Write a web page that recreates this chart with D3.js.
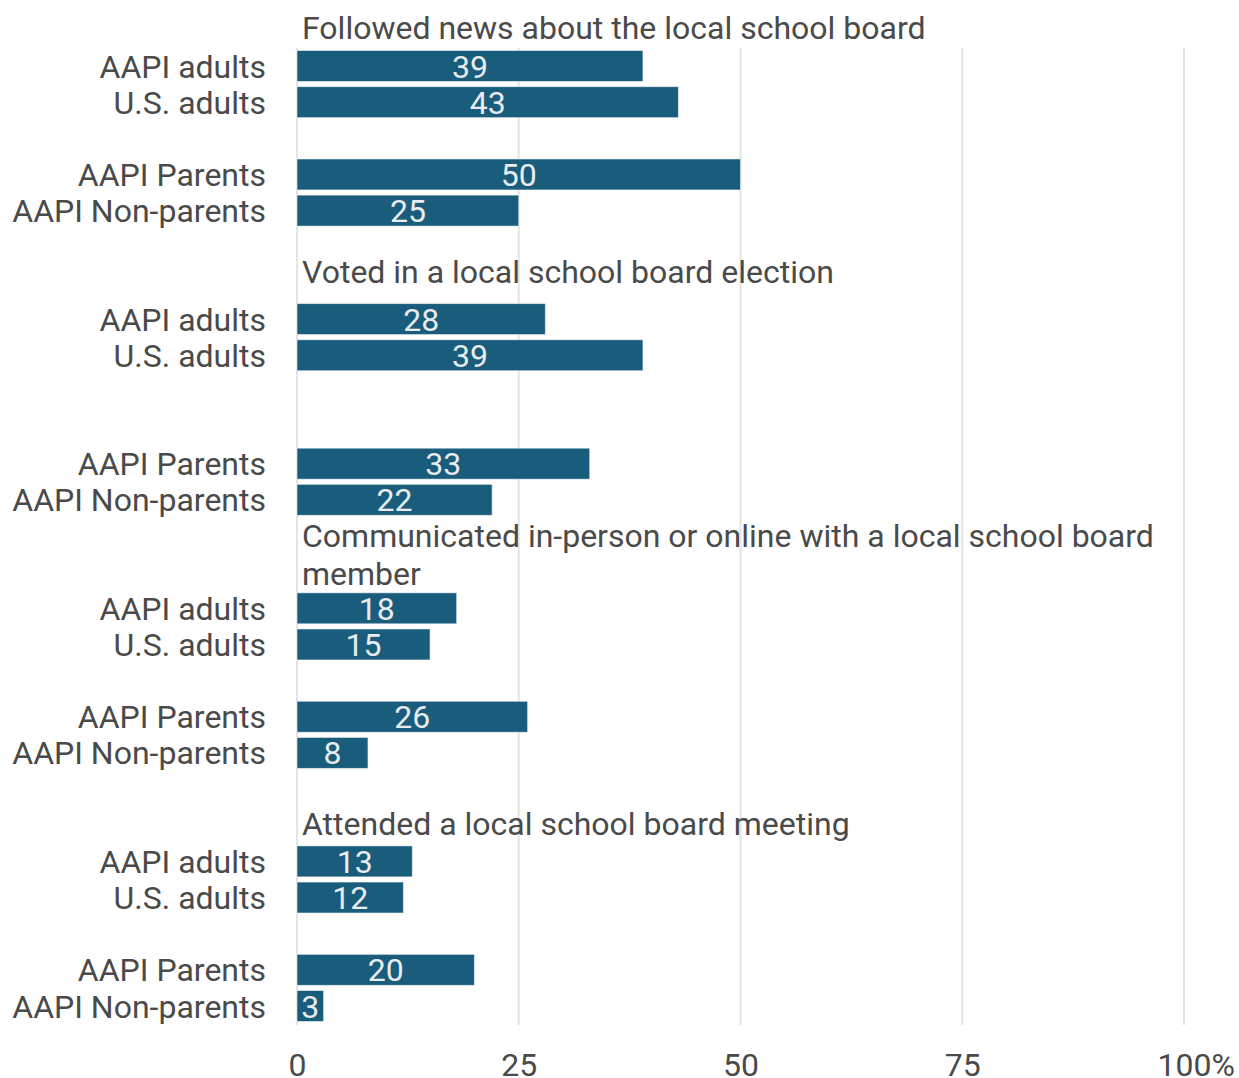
<!DOCTYPE html>
<html>
<head>
<meta charset="utf-8">
<script src="https://cdn.jsdelivr.net/npm/d3@7"></script>
<style>
  html, body { margin: 0; padding: 0; background: #fff; }
  svg text { font-family: Roboto, "Noto Sans", sans-serif; }
</style>
</head>
<body>
<svg id="chart" width="1239" height="1078"></svg>
<script>
// Share of respondents who did each school-board activity (%)
const panels = [
  "Followed news about the local school board",
  "Voted in a local school board election",
  "Communicated in-person or online with a local school board member",
  "Attended a local school board meeting"
];
const groups = ["AAPI adults", "U.S. adults", "AAPI Parents", "AAPI Non-parents"];
const followedNews = [39, 43, 50, 25];
const votedElection = [28, 39, 33, 22];
const communicated = [18, 15, 26, 8];
const attendedMeeting = [13, 12, 20, 3];
const tickValues = [0, 25, 50, 75, 100];

const panelValues = [followedNews, votedElection, communicated, attendedMeeting];

const svg = d3.select("#chart");
const textColor = "#4a4a4a";
const barColor = "#195c7b";
const fontSize = 32;

// Horizontal scale
const x = d3.scaleLinear().domain([0, 100]).range([297, 1184]);

// Vertical layout in row slots: each panel has a title, two pairs of bars
// separated by an empty slot, and blank slots between panels.
const rowSlots = [];   // {panel, group, value, slot}
const titleSlots = []; // {panel, slot}
let slot = 0;
panels.forEach((title, p) => {
  titleSlots.push({ panel: p, slot: slot - 1 });
  panelValues[p].forEach((v, g) => {
    const s = slot + g + (g >= 2 ? (p === 1 ? 2 : 1) : 0);
    rowSlots.push({ panel: p, group: groups[g], value: v, slot: s });
  });
  const last = d3.max(rowSlots.filter(r => r.panel === p), r => r.slot);
  slot = last + 3;
});

const maxSlot = d3.max(rowSlots, r => r.slot);
const y = d3.scaleLinear().domain([0, maxSlot]).range([66, 1006]);
const barH = 31;

// Gridlines
svg.append("g").selectAll("line")
  .data(tickValues)
  .join("line")
  .attr("x1", d => x(d)).attr("x2", d => x(d))
  .attr("y1", 48).attr("y2", 1025)
  .attr("stroke", "#e4e4e4")
  .attr("stroke-width", 2);

// Bars
svg.append("g").selectAll("rect")
  .data(rowSlots)
  .join("rect")
  .attr("x", x(0))
  .attr("y", d => y(d.slot) - barH / 2)
  .attr("width", d => x(d.value) - x(0))
  .attr("height", barH)
  .attr("fill", barColor)
  .attr("stroke", "rgba(255,255,255,0.55)")
  .attr("stroke-width", 1);

// Value labels inside bars
svg.append("g").selectAll("text")
  .data(rowSlots)
  .join("text")
  .attr("x", d => x(d.value / 2))
  .attr("y", d => y(d.slot))
  .attr("dy", "0.36em")
  .attr("text-anchor", "middle")
  .attr("font-size", fontSize)
  .attr("fill", "#e8ecef")
  .text(d => d.value);

// Group labels
svg.append("g").selectAll("text")
  .data(rowSlots)
  .join("text")
  .attr("x", 266)
  .attr("y", d => y(d.slot))
  .attr("dy", "0.36em")
  .attr("text-anchor", "end")
  .attr("font-size", fontSize)
  .attr("fill", textColor)
  .text(d => d.group);

// Panel titles (wrapped to the plot width)
const titleG = svg.append("g");
titleSlots.forEach(t => {
  const words = panels[t.panel].split(" ");
  const maxW = 880;
  const lines = [];
  const probe = titleG.append("text").attr("font-size", fontSize);
  let line = [];
  words.forEach(w => {
    const trial = line.concat(w).join(" ");
    probe.text(trial);
    if (probe.node().getComputedTextLength() > maxW && line.length) {
      lines.push(line.join(" "));
      line = [w];
    } else {
      line.push(w);
    }
  });
  lines.push(line.join(" "));
  probe.remove();
  const lineStep = 38;
  const lastY = y(t.slot) - (t.panel === 1 ? 9 : 0) - 2;
  const firstY = lastY - (lines.length - 1) * lineStep + (lines.length > 1 ? 3 : 0);
  lines.forEach((l, i) => {
    titleG.append("text")
      .attr("x", 302)
      .attr("y", firstY + i * lineStep)
      .attr("dy", "0.36em")
      .attr("font-size", fontSize)
      .attr("fill", textColor)
      .text(l);
  });
});

// Bottom axis
const axis = d3.axisBottom(x)
  .tickValues(tickValues)
  .tickSize(0)
  .tickPadding(0)
  .tickFormat(d => d === 100 ? "100%" : d);
const axisG = svg.append("g")
  .attr("transform", "translate(0,1064)")
  .call(axis);
axisG.select(".domain").remove();
axisG.selectAll("text")
  .attr("font-size", fontSize)
  .attr("fill", textColor)
  .attr("font-family", "Roboto, 'Noto Sans', sans-serif")
  .attr("dy", "0.36em")
  .attr("y", 0);
// Keep the number centred on its tick and let the "%" hang to the right
axisG.selectAll("text").filter(d => d === 100).each(function () {
  const probe = axisG.append("text").attr("font-size", fontSize)
    .attr("font-family", "Roboto, 'Noto Sans', sans-serif").text("%");
  const w = probe.node().getComputedTextLength();
  probe.remove();
  d3.select(this).attr("dx", w / 2);
});
</script>
</body>
</html>
